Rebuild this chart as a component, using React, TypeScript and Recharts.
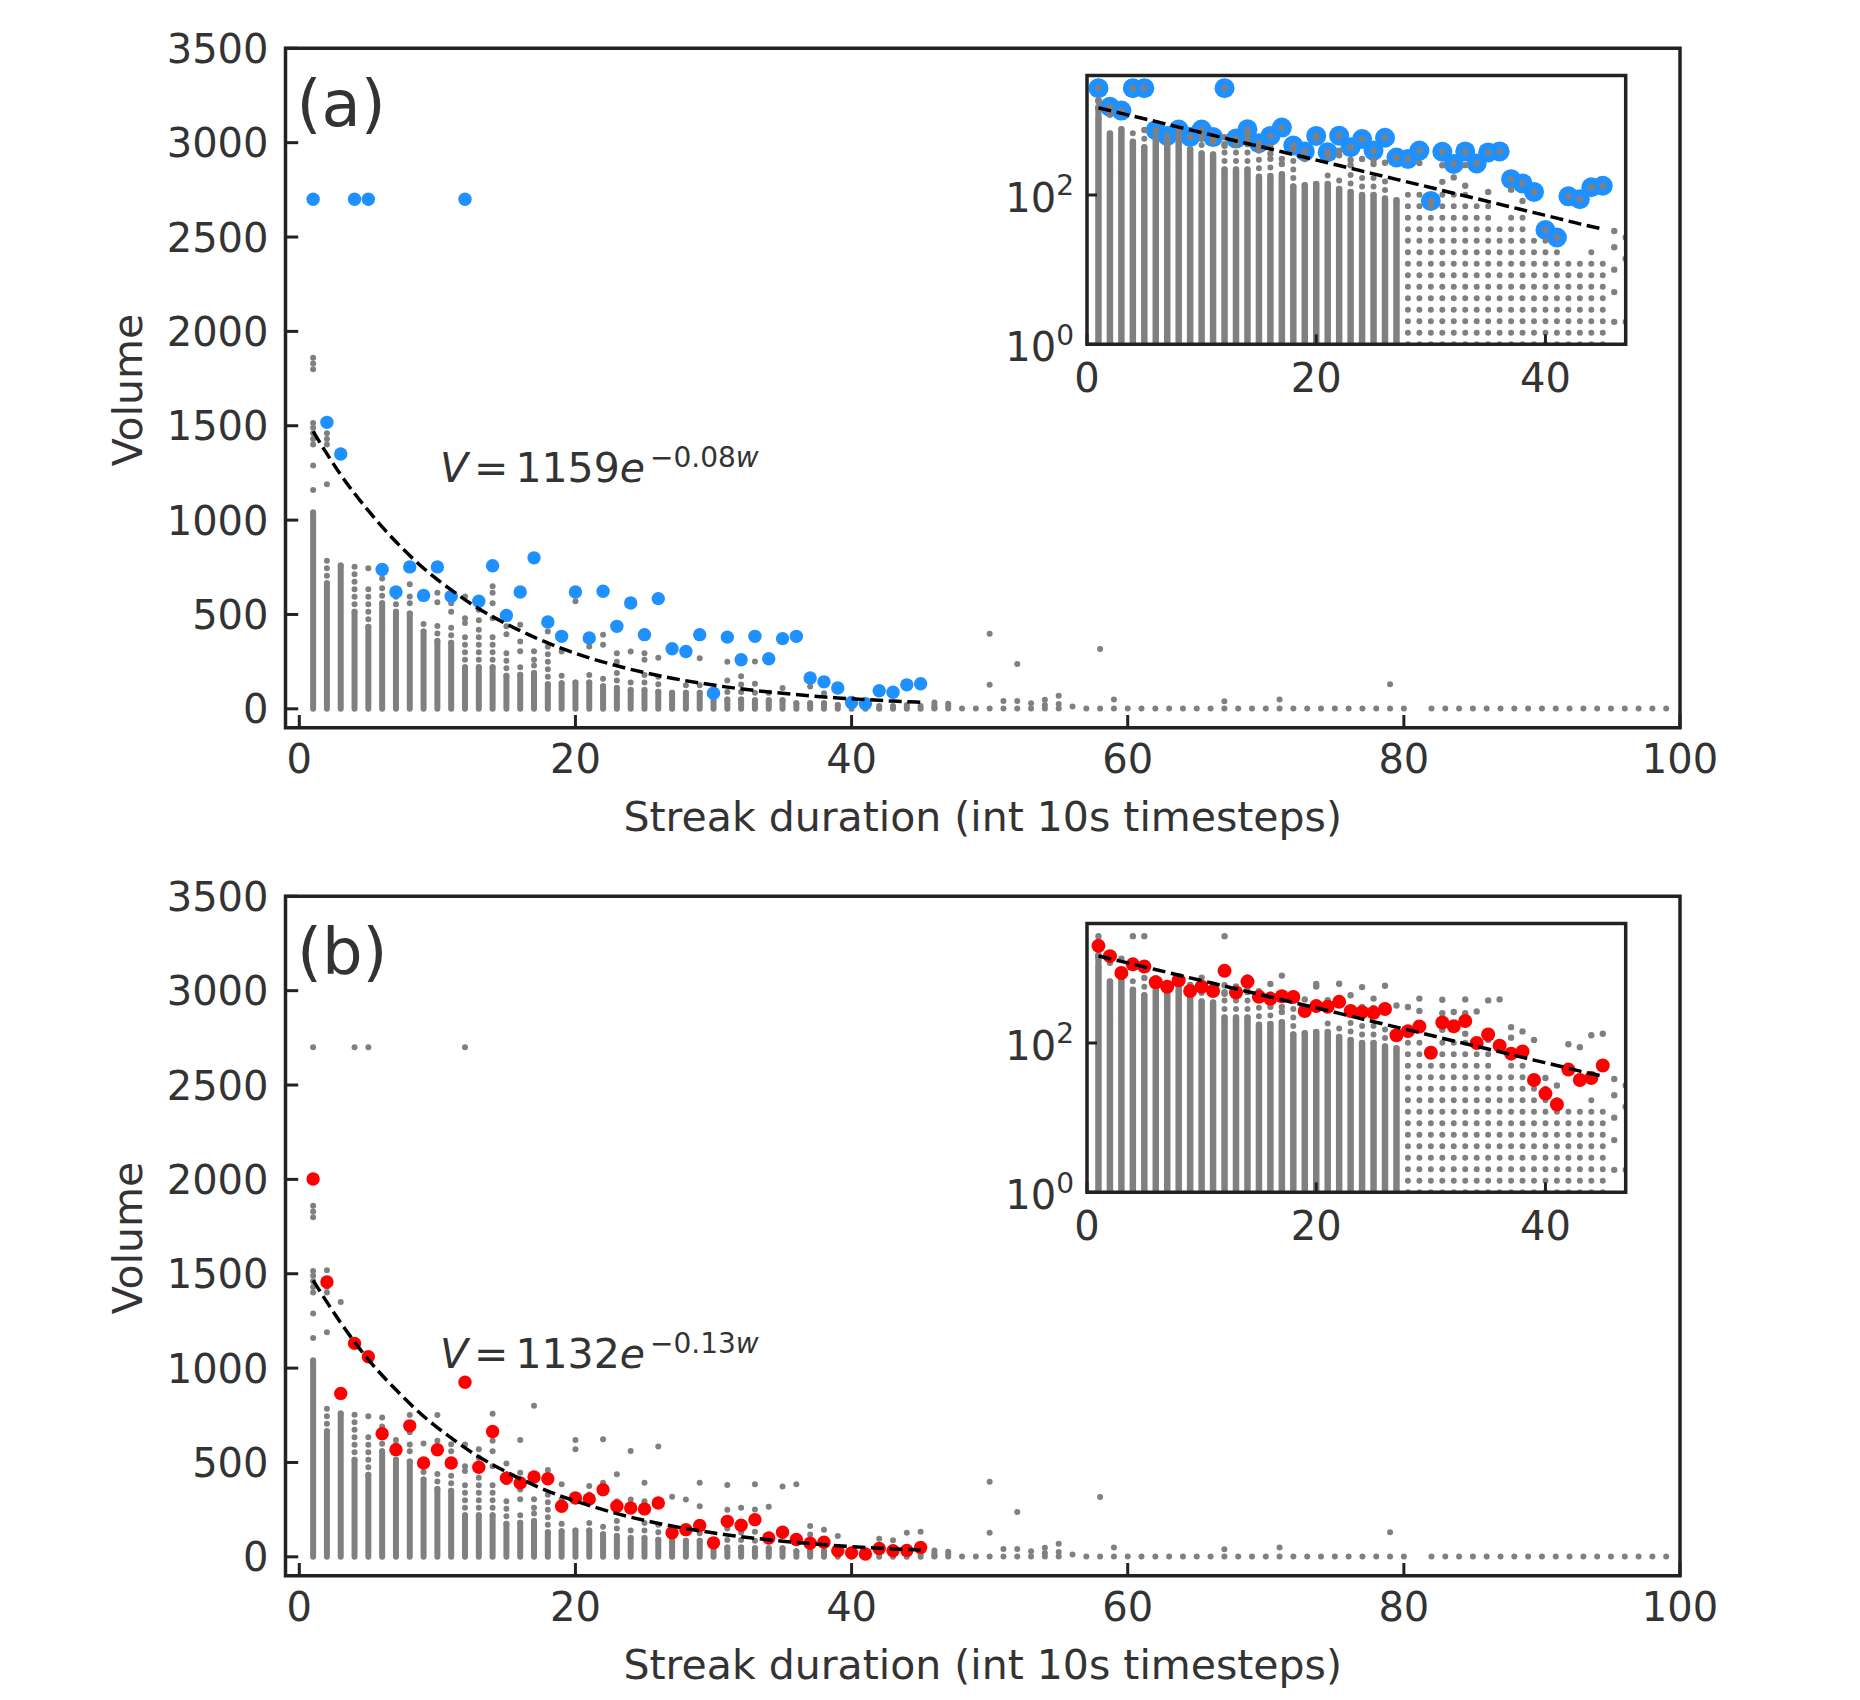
import React from "react";
import { ComposedChart, XAxis, YAxis, Line, Scatter, ReferenceArea } from "recharts";

const FONT = "'DejaVu Sans', sans-serif";
const INK = "#333333";
const SPINE = "#222222";
const GRAY = "#808080";
const BLUE = "#1e90ff";
const RED = "#ff0000";

// streak durations (int 10s timesteps) that carry a full column of volumes
const durations = [
  1, 2, 3, 4, 5, 6, 7, 8, 9, 10, 11, 12, 13, 14, 15, 16, 17, 18, 19, 20, 21, 22, 23,
  24, 25, 26, 27, 28, 29, 30, 31, 32, 33, 34, 35, 36, 37, 38, 39, 40, 41, 42, 43, 44, 45,
];

// top of the densely packed part of each column
const denseTop = [
  1040, 665, 760, 515, 435, 560, 515, 505, 410, 360, 350, 220, 220, 220, 175, 180, 190, 130,
  135, 140, 140, 120, 110, 100, 100, 90, 85, 85, 85, 60, 50, 50, 45, 45, 45, 30, 30, 30, 20,
  20, 18, 15, 15, 20, 15,
];

// top of the loosely packed (beaded) part of each column
const beadTop = [
  1060, 790, 765, 765, 655, 640, 595, 530, 470, 470, 430, 400, 430, 390, 320, 240, 240, 330,
  175, 145, 200, 190, 200, 170, 180, 190, 110, 140, 140, 80, 110, 130, 110, 100, 80, 40, 60,
  60, 30, 25, 18, 15, 15, 20, 15,
];

// isolated volumes above each column
const graySparse = [
  [1160, 1290, 1400, 1430, 1460, 1490, 1515, 1800, 1830, 1860, 2700],
  [1190, 1400, 1430, 1460, 1518],
  [1350],
  [2700],
  [745, 2700],
  [690, 738],
  [619],
  [560, 595, 660, 752],
  [601],
  [565, 615, 752],
  [515, 560, 596],
  [455, 480, 595, 2700],
  [470, 525, 570],
  [480, 560, 615, 650, 758],
  [395, 437, 495],
  [305, 357, 446, 619],
  [260, 305, 800],
  [410, 460],
  [304, 384],
  [570, 619],
  [330, 375],
  [340, 392, 623],
  [250, 295, 437],
  [304, 561],
  [260, 295, 393],
  [270, 584],
  [318],
  [304],
  [268, 393],
  [83],
  [150, 250, 380],
  [172, 260],
  [133, 251, 384],
  [265],
  [110, 372],
  [384],
  [118, 163],
  [83, 143],
  [110],
  [34],
  [27],
  [96],
  [88],
  [127],
  [133],
];

// long streaks, only a handful of volumes each
const tailDurations = [
  46, 47, 48, 49, 50, 51, 52, 53, 54, 55, 56, 57, 58, 59, 60, 61, 62, 63, 64, 65, 66, 67, 68,
  69, 70, 71, 72, 73, 74, 75, 76, 77, 78, 79, 80, 82, 83, 84, 85, 86, 87, 88, 89, 90, 91, 92,
  93, 94, 95, 96, 97, 98, 99,
];
const tailVolumes = [
  [2, 5, 10, 20, 33], [2, 14, 27], [2], [2], [2, 127, 398], [2, 42], [2, 42, 237], [2, 30],
  [2, 20, 48], [2, 25, 69], [12], [2], [2, 317], [2, 50], [2], [2], [2], [2], [2], [2], [2],
  [2, 40], [2], [2], [2], [2, 50], [2], [2], [2], [2], [2], [2], [2], [2, 130], [2], [2], [2],
  [2], [2], [2], [2], [2], [2], [2], [2], [2], [2], [2], [2], [2], [2], [2], [2],
];

// panel (a): largest volume per duration
const maxVolume = [
  2700, 1518, 1350, 2700, 2700, 738, 619, 752, 601, 752, 596, 2700, 570, 758, 495, 619, 800,
  460, 384, 619, 375, 623, 437, 561, 393, 584, 318, 304, 393, 83, 380, 260, 384, 265, 372, 384,
  163, 143, 110, 34, 27, 96, 88, 127, 133,
];

// panel (b): red markers
const typicalVolume = [
  2002, 1456, 866, 1131, 1060, 652, 567, 694, 497, 567, 497, 925, 475, 664, 417, 391, 423, 414,
  268, 312, 306, 356, 268, 259, 254, 285, 127, 144, 166, 74, 188, 167, 197, 100, 130, 92, 72,
  77, 32, 21, 15, 44, 32, 34, 50,
];

// dashed exponential fits
const fitDurations = [1, 3, 5, 7, 9, 11, 13, 15, 17, 19, 21, 23, 25, 27, 29, 31, 33, 35, 37, 39, 41, 43, 45];
const fitVolumeA = [1470, 1240, 1050, 885, 745, 630, 530, 450, 380, 320, 270, 228, 192, 162, 137, 115, 97, 82, 69, 58, 49, 41, 35];
const fitVolumeB = [1465, 1240, 1045, 885, 745, 630, 530, 450, 380, 320, 272, 229, 193, 163, 138, 116, 98, 83, 70, 59, 50, 42, 36];

const mainXTicks = [0, 20, 40, 60, 80, 100];
const mainYTicks = [0, 500, 1000, 1500, 2000, 2500, 3000, 3500];
const insetXTicks = [0, 20, 40];
const insetYTicks = [1, 100];

type Row = { w: number; v: number | null };

// each column becomes its own sub-path (null breaks the line)
const segments = (lo: (i: number) => number, hi: (i: number) => number, keep: (w: number) => boolean) =>
  durations.flatMap((w, i): Row[] =>
    keep(w) ? [{ w, v: lo(i) }, { w, v: hi(i) }, { w, v: null }] : []
  );

const mainSolid = segments(() => 0, (i) => denseTop[i], () => true);
const mainBeads = segments((i) => denseTop[i], (i) => beadTop[i], () => true);
const insetSolid = segments(() => 1, (i) => denseTop[i], (w) => w < 28);
const insetBeads = segments((i) => denseTop[i], (i) => beadTop[i], (w) => w < 28);
const insetSparseCols = segments(() => 1, (i) => beadTop[i], (w) => w >= 28);

const sparseRows: Row[] = [
  ...durations.flatMap((w, i) => graySparse[i].map((v) => ({ w, v }))),
  ...tailDurations.flatMap((w, i) => tailVolumes[i].map((v) => ({ w, v }))),
];
const insetSparseRows = sparseRows.filter((r) => r.w <= 47);

const blueRows = durations.map((w, i) => ({ w, v: maxVolume[i] }));
const redRows = durations.map((w, i) => ({ w, v: typicalVolume[i] }));
const fitRowsA = fitDurations.map((w, i) => ({ w, v: fitVolumeA[i] }));
const fitRowsB = fitDurations.map((w, i) => ({ w, v: fitVolumeB[i] }));

const dot = (r: number, fill: string) => (p: any) =>
  p.cx == null || p.cy == null ? <g /> : <circle cx={p.cx} cy={p.cy} r={r} fill={fill} />;

function MainYTick({ x, y, payload }: any) {
  return (
    <g>
      <line x1={x} x2={x + 12.7} y1={y} y2={y} stroke={SPINE} strokeWidth={3} />
      <text x={x - 17} y={y + 14.6} textAnchor="end" fontSize={40} fontFamily={FONT} fill={INK}>
        {payload.value}
      </text>
    </g>
  );
}

function MainXTick({ x, y, payload }: any) {
  return (
    <g>
      <line x1={x} x2={x} y1={y} y2={y - 12.7} stroke={SPINE} strokeWidth={3} />
      <text x={x} y={y + 45.6} textAnchor="middle" fontSize={40} fontFamily={FONT} fill={INK}>
        {payload.value}
      </text>
    </g>
  );
}

function InsetYTick({ x, y, payload }: any) {
  const exp = Math.round(Math.log10(payload.value));
  return (
    <g>
      <line x1={x} x2={x + 10} y1={y} y2={y} stroke={SPINE} strokeWidth={3} />
      <text x={x - 13} y={y + 17} textAnchor="end" fontSize={40} fontFamily={FONT} fill={INK}>
        10
        <tspan dy={-16.7} fontSize={28}>
          {exp}
        </tspan>
      </text>
    </g>
  );
}

function InsetXTick({ x, y, payload }: any) {
  return (
    <g>
      <line x1={x} x2={x} y1={y} y2={y - 10} stroke={SPINE} strokeWidth={3} />
      <text x={x} y={y + 47.7} textAnchor="middle" fontSize={40} fontFamily={FONT} fill={INK}>
        {payload.value}
      </text>
    </g>
  );
}

function MainPanel({ markers, color, fit }: any) {
  return (
    <ComposedChart width={1844} height={836} margin={{ top: 40.3, right: 172, bottom: 56.3, left: 217.5 }}>
      <XAxis
        dataKey="w"
        type="number"
        domain={[-1, 100]}
        allowDataOverflow
        ticks={mainXTicks}
        interval={0}
        height={60}
        axisLine={false}
        tickLine={false}
        tickSize={0}
        tickMargin={0}
        tick={(p: any) => <MainXTick {...p} />}
      />
      <YAxis
        dataKey="v"
        type="number"
        domain={[-100, 3500]}
        allowDataOverflow
        ticks={mainYTicks}
        interval={0}
        width={60}
        axisLine={false}
        tickLine={false}
        tickSize={0}
        tickMargin={0}
        tick={(p: any) => <MainYTick {...p} />}
      />
      <Line data={mainSolid} dataKey="v" type="linear" stroke={GRAY} strokeWidth={6} strokeLinecap="round" dot={false} activeDot={false} legendType="none" isAnimationActive={false} zIndex={100} />
      <Line data={mainBeads} dataKey="v" type="linear" stroke={GRAY} strokeWidth={6} strokeLinecap="round" strokeDasharray="0 7.5" dot={false} activeDot={false} legendType="none" isAnimationActive={false} zIndex={101} />
      <Scatter data={sparseRows} dataKey="v" shape={dot(3, GRAY)} isAnimationActive={false} zIndex={102} />
      <Scatter data={markers} dataKey="v" shape={dot(6.7, color)} isAnimationActive={false} zIndex={103} />
      <Line data={fit} dataKey="v" type="monotone" stroke="#000000" strokeWidth={3.5} strokeDasharray="13 5.6" dot={false} activeDot={false} legendType="none" isAnimationActive={false} zIndex={104} />
      <ReferenceArea x1={-1} x2={100} y1={-100} y2={3500} fill="none" stroke={SPINE} strokeWidth={3.5} zIndex={105} />
    </ComposedChart>
  );
}

function InsetPanel({ markers, color, radius, fit, markersBelow }: any) {
  return (
    <ComposedChart width={660} height={360} margin={{ top: 15.4, right: 34.3, bottom: 15.7, left: 27 }}>
      <XAxis
        dataKey="w"
        type="number"
        domain={[0, 47]}
        allowDataOverflow
        ticks={insetXTicks}
        interval={0}
        height={60}
        axisLine={false}
        tickLine={false}
        tickSize={0}
        tickMargin={0}
        tick={(p: any) => <InsetXTick {...p} />}
      />
      <YAxis
        dataKey="v"
        type="number"
        scale="log"
        domain={[1, 4000]}
        allowDataOverflow
        ticks={insetYTicks}
        interval={0}
        width={60}
        axisLine={false}
        tickLine={false}
        tickSize={0}
        tickMargin={0}
        tick={(p: any) => <InsetYTick {...p} />}
      />
      <ReferenceArea x1={0} x2={47} y1={1} y2={4000} fill="#ffffff" fillOpacity={1} stroke="none" zIndex={90} />
      {markersBelow && (
        <Scatter data={markers} dataKey="v" shape={dot(radius, color)} isAnimationActive={false} zIndex={95} />
      )}
      <Line data={insetSolid} dataKey="v" type="linear" stroke={GRAY} strokeWidth={6.5} strokeLinecap="round" dot={false} activeDot={false} legendType="none" isAnimationActive={false} zIndex={100} />
      <Line data={insetBeads} dataKey="v" type="linear" stroke={GRAY} strokeWidth={6} strokeLinecap="round" strokeDasharray="0 8.5" dot={false} activeDot={false} legendType="none" isAnimationActive={false} zIndex={101} />
      <Line data={insetSparseCols} dataKey="v" type="linear" stroke={GRAY} strokeWidth={6} strokeLinecap="round" strokeDasharray="0 11.5" dot={false} activeDot={false} legendType="none" isAnimationActive={false} zIndex={101} />
      <Scatter data={insetSparseRows} dataKey="v" shape={dot(3.2, GRAY)} isAnimationActive={false} zIndex={102} />
      {!markersBelow && (
        <Scatter data={markers} dataKey="v" shape={dot(radius, color)} isAnimationActive={false} zIndex={103} />
      )}
      <Line data={fit} dataKey="v" type="monotone" stroke="#000000" strokeWidth={3.5} strokeDasharray="13 5.6" dot={false} activeDot={false} legendType="none" isAnimationActive={false} zIndex={104} />
      <ReferenceArea x1={0} x2={47} y1={1} y2={4000} fill="none" stroke={SPINE} strokeWidth={3.5} zIndex={105} />
    </ComposedChart>
  );
}

function FitLabel({ x, y, amp, rate }: any) {
  return (
    <text x={x} y={y} fontFamily={FONT} fontSize={41} fill={INK}>
      <tspan fontStyle="italic">V</tspan>
      <tspan dx={6}>=</tspan>
      <tspan dx={7}>{amp}</tspan>
      <tspan fontStyle="italic">e</tspan>
      <tspan dx={5} dy={-15} fontSize={28}>
        {"\u2212" + rate}
      </tspan>
      <tspan fontSize={28} fontStyle="italic">
        w
      </tspan>
    </text>
  );
}

const XLABEL = "Streak duration (int 10s timesteps)";

export default function App() {
  return (
    <div style={{ position: "relative", width: 1844, height: 1684, overflow: "hidden", background: "#ffffff" }}>
      <div style={{ position: "absolute", left: 0, top: 0 }}>
        <MainPanel markers={blueRows} color={BLUE} fit={fitRowsA} />
      </div>
      <div style={{ position: "absolute", left: 992, top: 52 }}>
        <InsetPanel markers={blueRows} color={BLUE} radius={10} fit={fitRowsA} markersBelow />
      </div>
      <div style={{ position: "absolute", left: 0, top: 848 }}>
        <MainPanel markers={redRows} color={RED} fit={fitRowsB} />
      </div>
      <div style={{ position: "absolute", left: 992, top: 900 }}>
        <InsetPanel markers={redRows} color={RED} radius={7} fit={fitRowsB} markersBelow={false} />
      </div>
      <svg width={1844} height={1684} style={{ position: "absolute", left: 0, top: 0, pointerEvents: "none" }}>
        <text x={288.5} y={118} fontFamily={FONT} fontSize={64} fill={INK}>(a)</text>
        <text x={289} y={966} fontFamily={FONT} fontSize={64} fill={INK}>(b)</text>
        <FitLabel x={432} y={473.7} amp="1159" rate="0.08" />
        <FitLabel x={432} y={1360} amp="1132" rate="0.13" />
        <text x={134} y={382} transform="rotate(-90 134 382)" textAnchor="middle" fontFamily={FONT} fontSize={41} fill={INK}>Volume</text>
        <text x={134} y={1230} transform="rotate(-90 134 1230)" textAnchor="middle" fontFamily={FONT} fontSize={41} fill={INK}>Volume</text>
        <text x={974.75} y={823} textAnchor="middle" fontFamily={FONT} fontSize={41} fill={INK}>{XLABEL}</text>
        <text x={974.75} y={1671} textAnchor="middle" fontFamily={FONT} fontSize={41} fill={INK}>{XLABEL}</text>
      </svg>
    </div>
  );
}
